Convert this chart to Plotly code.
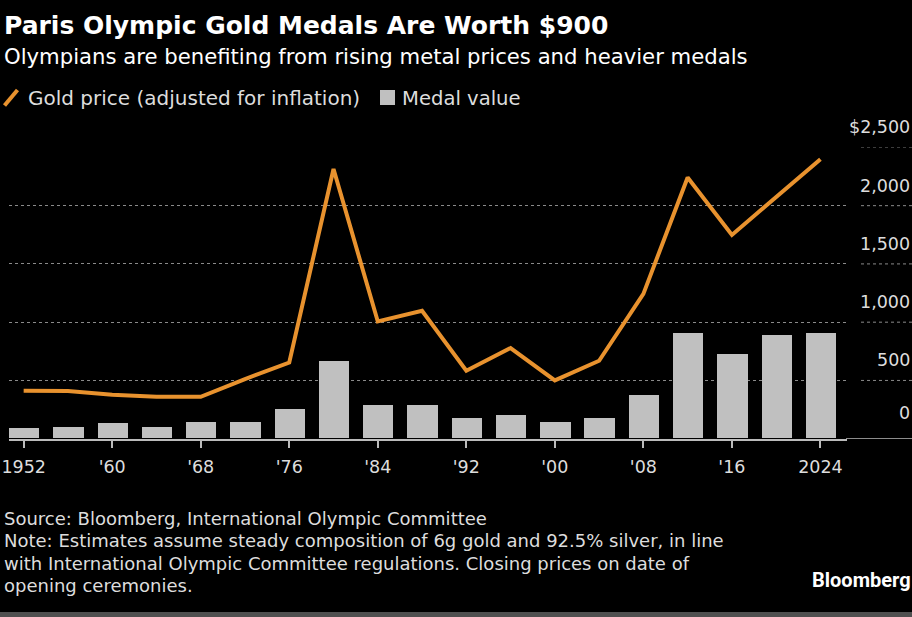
import plotly.graph_objects as go

years = [1952, 1956, 1960, 1964, 1968, 1972, 1976, 1980, 1984, 1988,
         1992, 1996, 2000, 2004, 2008, 2012, 2016, 2020, 2024]
gold_price = [412, 410, 377, 360, 360, 512, 654, 2315, 1006, 1098,
              583, 778, 500, 669, 1243, 2241, 1749, 2075, 2399]
medal_value = [92, 100, 135, 94, 140, 140, 249, 666, 289, 289,
               174, 203, 143, 174, 369, 900, 723, 883, 906]

x_tickvals = [1952, 1960, 1968, 1976, 1984, 1992, 2000, 2008, 2016, 2024]
x_ticktext = ["1952", "'60", "'68", "'76", "'84", "'92", "'00", "'08", "'16", "2024"]
y_tickvals = [0, 500, 1000, 1500, 2000, 2500]
y_ticktext = ["0", "500", "1,000", "1,500", "2,000", "$2,500"]

footnote_lines = [
    "Source: Bloomberg, International Olympic Committee",
    "Note: Estimates assume steady composition of 6g gold and 92.5% silver, in line",
    "with International Olympic Committee regulations. Closing prices on date of",
    "opening ceremonies.",
]

W, H = 912, 617
FONT = "DejaVu Sans"
ORANGE = "#E8922E"
BAR = "#C0C0C0"

def px(x):
    return x / W

def py(y):
    return 1 - y / H

fig = go.Figure()
fig.add_trace(go.Bar(x=years, y=medal_value, name="Medal value",
                     marker=dict(color=BAR, line=dict(width=0)), width=2.74))
fig.add_trace(go.Scatter(x=years, y=gold_price, name="Gold price (adjusted for inflation)",
                         mode="lines", line=dict(color=ORANGE, width=4)))

annotations = []
annotations.append(dict(text="<b>Paris Olympic Gold Medals Are Worth $900</b>", x=px(2), y=py(25),
                        xref="paper", yref="paper", xanchor="left", yanchor="middle",
                        showarrow=False, font=dict(family=FONT, size=25, color="#FFFFFF")))
annotations.append(dict(text="Olympians are benefiting from rising metal prices and heavier medals",
                        x=px(2), y=py(56), xref="paper", yref="paper", xanchor="left",
                        yanchor="middle", showarrow=False,
                        font=dict(family=FONT, size=21.2, color="#FFFFFF")))
annotations.append(dict(text="Gold price (adjusted for inflation)", x=px(26), y=py(98),
                        xref="paper", yref="paper", xanchor="left", yanchor="middle",
                        showarrow=False, font=dict(family=FONT, size=20, color="#DDDDDD")))
annotations.append(dict(text="Medal value", x=px(400), y=py(98),
                        xref="paper", yref="paper", xanchor="left", yanchor="middle",
                        showarrow=False, font=dict(family=FONT, size=19.6, color="#DDDDDD")))
for v, t in zip(y_tickvals, y_ticktext):
    annotations.append(dict(text=t, x=px(912), y=v, xref="paper", yref="y",
                            xanchor="right", yanchor="middle",
                            yshift=26 if v == 0 else 20, showarrow=False,
                            font=dict(family=FONT, size=17.5, color="#DDDDDD")))
for i, line in enumerate(footnote_lines):
    annotations.append(dict(text=line, x=px(2), y=py(518 + 22.5 * i), xref="paper", yref="paper",
                            xanchor="left", yanchor="middle", align="left", showarrow=False,
                            font=dict(family=FONT, size=18, color="#DDDDDD")))
annotations.append(dict(text="<b>Bloomberg</b>", x=px(913), y=py(580), xref="paper", yref="paper",
                        xanchor="right", yanchor="middle", showarrow=False,
                        font=dict(family="Roboto", size=20, color="#FFFFFF")))

shapes = []
shapes.append(dict(type="line", xref="paper", yref="paper", x0=px(4.5), y0=py(105.5),
                   x1=px(17.5), y1=py(90), line=dict(color=ORANGE, width=4)))
shapes.append(dict(type="rect", xref="paper", yref="paper", x0=px(380), y0=py(105),
                   x1=px(395), y1=py(90), fillcolor=BAR, line=dict(width=0)))
for v in y_tickvals[1:]:
    shapes.append(dict(type="line", xref="paper", yref="y", x0=px(861), x1=1, y0=v, y1=v,
                       line=dict(color="#8A8A8A", width=1, dash="dot"), layer="below"))
shapes.append(dict(type="line", xref="paper", yref="y", x0=px(846), x1=1, y0=0, y1=0,
                   line=dict(color="#BBBBBB", width=1.5)))
shapes.append(dict(type="rect", xref="paper", yref="paper", x0=0, x1=1, y0=0, y1=py(612),
                   fillcolor="#505050", line=dict(width=0)))

fig.update_layout(
    width=W, height=H,
    margin=dict(l=0, r=0, t=0, b=0, autoexpand=False),
    paper_bgcolor="#000000", plot_bgcolor="#000000",
    showlegend=False,
    bargap=0,
    annotations=annotations,
    shapes=shapes,
    xaxis=dict(domain=[px(8.5), px(847)], range=[1950.63, 2026.4], automargin=False,
               tickvals=x_tickvals, ticktext=x_ticktext,
               ticks="outside", ticklen=8, tickcolor="#BBBBBB", tickwidth=1.5,
               ticklabelstandoff=4,
               showline=True, linecolor="#BBBBBB", linewidth=1.5,
               showgrid=False, zeroline=False,
               tickfont=dict(family=FONT, size=17.5, color="#DDDDDD")),
    yaxis=dict(domain=[py(438.7), py(147.4)], range=[0, 2500], automargin=False,
               tickvals=y_tickvals[1:], showticklabels=False,
               showgrid=True, gridcolor="#8A8A8A", gridwidth=1, griddash="dot",
               zeroline=False, showline=False, ticks=""),
)

fig.write_html("out.html", config={"displayModeBar": False},
               post_script="document.body.style.margin='0';document.body.style.overflow='hidden';document.body.style.background='#000';")
